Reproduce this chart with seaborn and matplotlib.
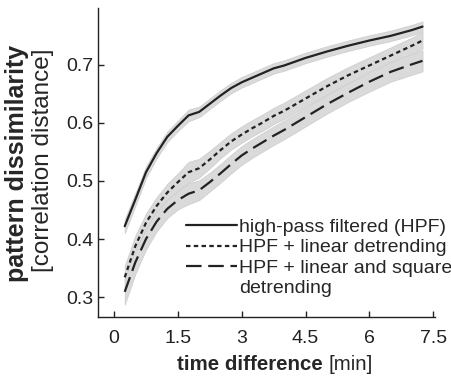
import pandas as pd
import seaborn as sns
import matplotlib.pyplot as plt
from matplotlib.lines import Line2D

# time points [min]
time = [0.25, 0.5, 0.75, 1.0, 1.25, 1.5, 1.75, 2.0, 2.25, 2.5, 2.75, 3.0,
        3.25, 3.5, 3.75, 4.0, 4.5, 5.0, 5.5, 6.0, 6.5, 7.0, 7.25]

# mean correlation distance per preprocessing
hpf = [0.422, 0.468, 0.515, 0.548, 0.576, 0.595, 0.613, 0.619, 0.633, 0.647, 0.660, 0.670,
       0.678, 0.686, 0.694, 0.699, 0.712, 0.723, 0.733, 0.742, 0.750, 0.760, 0.766]
hpf_lin = [0.334, 0.388, 0.428, 0.457, 0.480, 0.498, 0.515, 0.522, 0.537, 0.553, 0.568, 0.580,
           0.591, 0.601, 0.612, 0.621, 0.642, 0.663, 0.682, 0.699, 0.716, 0.733, 0.742]
hpf_linsq = [0.309, 0.360, 0.400, 0.430, 0.452, 0.467, 0.478, 0.484, 0.498, 0.513, 0.529, 0.544,
             0.556, 0.567, 0.578, 0.588, 0.610, 0.632, 0.652, 0.671, 0.688, 0.701, 0.707]

# half width of the shaded error bands
hpf_err = [0.012, 0.011, 0.010, 0.009, 0.009, 0.009, 0.010, 0.009, 0.009, 0.009, 0.009, 0.009,
           0.009, 0.009, 0.009, 0.009, 0.009, 0.009, 0.009, 0.009, 0.009, 0.009, 0.009]
hpf_lin_err = [0.020, 0.018, 0.016, 0.015, 0.015, 0.015, 0.018, 0.016, 0.015, 0.014, 0.014, 0.014,
               0.014, 0.014, 0.014, 0.014, 0.014, 0.014, 0.014, 0.014, 0.014, 0.014, 0.014]
hpf_linsq_err = [0.022, 0.020, 0.018, 0.017, 0.016, 0.016, 0.018, 0.017, 0.016, 0.016, 0.016, 0.016,
                 0.016, 0.016, 0.016, 0.016, 0.016, 0.016, 0.016, 0.017, 0.017, 0.018, 0.018]

labels = ['high-pass filtered (HPF)', 'HPF + linear detrending', 'HPF + linear and square']

df = pd.DataFrame({'time': time, 'hpf': hpf, 'hpf_lin': hpf_lin, 'hpf_linsq': hpf_linsq,
                   'hpf_err': hpf_err, 'hpf_lin_err': hpf_lin_err, 'hpf_linsq_err': hpf_linsq_err})

sns.set_style('ticks')
plt.rcParams['font.family'] = ['Liberation Sans', 'DejaVu Sans']

fig = plt.figure(figsize=(4.52, 3.82), dpi=100)
ax = fig.add_axes([0.217, 0.170, 0.746, 0.809])

line_col = '#222222'
band_col = '#dadada'
styles = ['-', (0, (2, 1.5)), (0, (7, 3))]

# bands first, lines on top
for col in ['hpf', 'hpf_lin', 'hpf_linsq']:
    ax.fill_between(df['time'], df[col] - df[col + '_err'], df[col] + df[col + '_err'],
                    color=band_col, lw=0.6, edgecolor='#cfcfcf', zorder=1)

for col, ls in zip(['hpf', 'hpf_lin', 'hpf_linsq'], styles):
    sns.lineplot(data=df, x='time', y=col, ax=ax, color=line_col, linestyle=ls, lw=1.6, zorder=3)

ax.set_xlim(-0.376, 7.55)
ax.set_ylim(0.2655, 0.798)
ax.set_xticks([0, 1.5, 3, 4.5, 6, 7.5])
ax.set_xticklabels(['0', '1.5', '3', '4.5', '6', '7.5'])
ax.set_yticks([0.3, 0.4, 0.5, 0.6, 0.7])
ax.set_yticklabels(['0.3', '0.4', '0.5', '0.6', '0.7'])
ax.tick_params(direction='in', length=4, width=1, labelsize=14, colors='#222222')
ax.tick_params(axis='x', pad=9)
ax.tick_params(axis='y', pad=3.5)
sns.despine(ax=ax)
for s in ['left', 'bottom']:
    ax.spines[s].set_linewidth(1)
    ax.spines[s].set_color('#222222')
ax.set_xlabel('')
ax.set_ylabel('')

# axis labels: bold part + normal part
fig.text(323 / 452, 1 - 370 / 382, 'time difference', fontsize=14.8, fontweight='bold',
         ha='right', va='baseline')
fig.text(329 / 452, 1 - 370 / 382, '[min]', fontsize=14.8, ha='left', va='baseline')
fig.text(17 / 452, 1 - 163 / 382, 'pattern dissimilarity', fontsize=18, fontweight='bold',
         rotation=90, ha='center', va='center')
fig.text(43 / 452, 1 - 160 / 382, '[correlation distance]', fontsize=17.5,
         rotation=90, ha='center', va='center')

handles = [Line2D([], [], color=line_col, ls=ls, lw=1.6) for ls in styles]
handles.append(Line2D([], [], color='none'))
ax.legend(handles, labels + ['detrending'], frameon=False, fontsize=14,
          handlelength=2.6, handletextpad=0.1, labelspacing=0.15,
          borderpad=0, loc='upper left', bbox_to_anchor=(0.262, 0.32), borderaxespad=0)

fig.savefig('out.png', dpi=100)
